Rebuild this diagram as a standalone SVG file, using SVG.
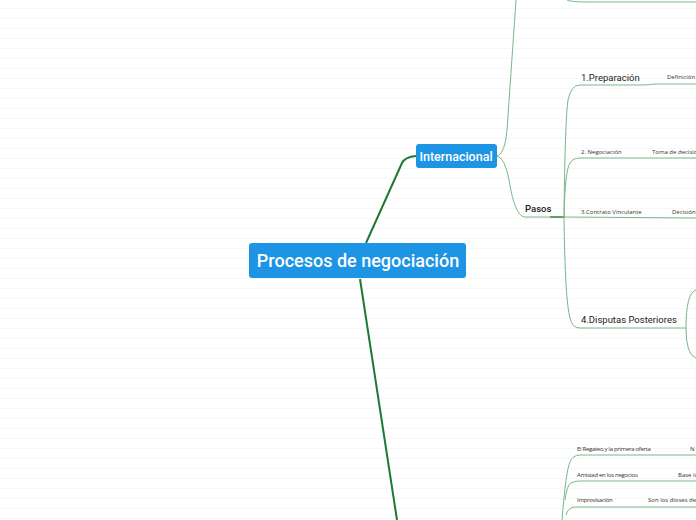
<svg xmlns="http://www.w3.org/2000/svg" width="696" height="520" viewBox="0 0 696 520">
<defs>
<pattern id="lines" x="0" y="0" width="696" height="10" patternUnits="userSpaceOnUse">
<rect x="0" y="8" width="696" height="1" fill="#f7f7f7"/>
</pattern>
<style>
.thin{fill:none;stroke:#78b88a;stroke-width:1}
.thick{fill:none;stroke:#1d7a32;stroke-width:2}
.node{fill:#1e94e4}
.wt{fill:#ffffff;font-family:Roboto,"Liberation Sans",sans-serif;font-weight:500}
.t{fill:#222;font-family:Roboto,"Liberation Sans",sans-serif}
.s{fill:#333;font-family:"Open Sans","Liberation Sans",sans-serif;font-size:6px}
</style>
</defs>
<rect width="696" height="520" fill="#ffffff"/>
<rect width="696" height="520" fill="url(#lines)"/>
<g id="connectors">
<path class="thick" d="M366,243 L402,163 Q405,157 416,156"/>
<path class="thick" d="M360,279 L397,520"/>
<path class="thin" d="M497,156 Q505,154 507,130 L516,0"/>
<path class="thin" d="M567,0 Q570,2 590,2 L696,2"/>
<path class="thin" d="M497,156 Q505,158 509,180 Q515,217 525,217 L563,217"/>
<path fill="none" stroke="#2f7d40" stroke-width="1.3" d="M550,217 L565,217"/>
<path class="thin" d="M564,217 Q565,120 568,100 Q571,85 580,85 L640,85 Q650,85 655,84 L696,84"/>
<path class="thin" d="M564,217 Q565,170 570,163 Q573,158 580,158 L696,158"/>
<path class="thin" d="M564,217 L696,218"/>
<path class="thin" d="M564,217 Q565,300 570,318 Q572,328 580,328 L676,328"/>
<path class="thin" d="M676,328 L686,328 Q686,293 696,290 M686,328 Q686,355 696,358"/>
<path class="thin" d="M562,520 Q566,470 570,462 Q573,455 580,455 L696,455"/>
<path class="thin" d="M565,500 Q567,485 571,483 Q574,481 580,481 L696,481"/>
<path class="thin" d="M566,515 Q568,508 574,507 L696,507"/>
</g>
<g id="n-root">
<rect class="node" x="249" y="243" width="217" height="35" rx="3"/>
<text class="wt" x="358" y="267" font-size="18" text-anchor="middle">Procesos de negociación</text>
</g>
<g id="n-internacional">
<rect class="node" x="416" y="144" width="81" height="24" rx="3"/>
<text class="wt" x="456" y="160.5" font-size="12.5" text-anchor="middle">Internacional</text>
</g>
<g id="n-pasos">
<text class="t" x="525" y="212" font-size="9.5" font-weight="500">Pasos</text>
</g>
<g id="n-prep">
<text class="t" x="581" y="81" font-size="9.5">1.Preparación</text>
<text class="s" x="667" y="79">Definición</text>
</g>
<g id="n-neg">
<text class="s" x="581" y="154">2. Negociación</text>
<text class="s" x="652" y="154">Toma de decisio</text>
</g>
<g id="n-contrato">
<text class="s" x="581" y="214">3.Contrato Vinculante</text>
<text class="s" x="672" y="214">Decisión</text>
</g>
<g id="n-disputas">
<text class="t" x="581" y="323" font-size="9.5">4.Disputas Posteriores</text>
</g>
<g id="n-regateo">
<text class="s" x="577" y="451" letter-spacing="-0.3">El Regateo y la primera oferta</text>
<text class="s" x="690" y="451">N</text>
</g>
<g id="n-amistad">
<text class="s" x="577" y="477" letter-spacing="-0.3">Amistad en los negocios</text>
<text class="s" x="678" y="477">Base lo</text>
</g>
<g id="n-improvisacion">
<text class="s" x="577" y="502" letter-spacing="-0.3">Improvisación</text>
<text class="s" x="648" y="502">Son los dioses de</text>
</g>
</svg>
